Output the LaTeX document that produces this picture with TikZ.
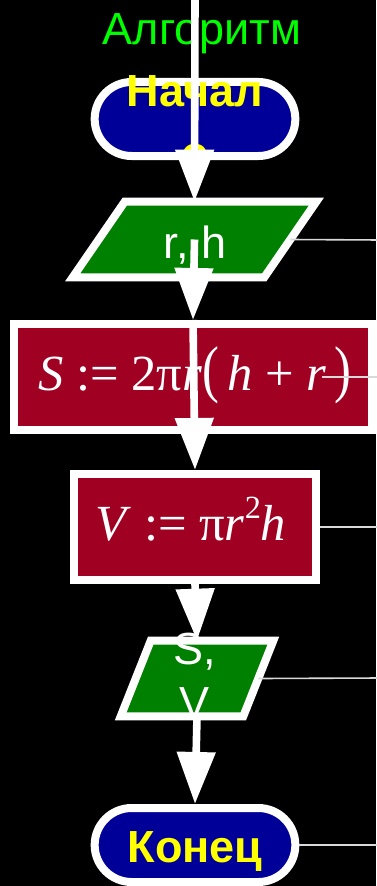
\documentclass[tikz,border=0pt]{standalone}
\usepackage{fontspec}
\setmainfont{Liberation Sans}
\newfontfamily\formulafont{Liberation Serif}
\usepackage{graphicx}
\usetikzlibrary{
  arrows.meta,
  positioning,
  shapes.misc,
  calc
}
\definecolor{termblue}{RGB}{0,0,153}
\definecolor{termyellow}{RGB}{255,255,0}
\definecolor{iogreen}{RGB}{0,128,0}
\definecolor{procred}{RGB}{160,0,34}
\definecolor{titlegreen}{RGB}{0,255,0}
\newcommand{\fv}[1]{\textit{#1}}
\newcommand{\tallpar}[1]{\scalebox{1}[1.25]{#1}}

\begin{document}
\begin{tikzpicture}[
            x=0.025cm, y=-0.025cm,
            term/.style={rounded rectangle, draw=white, line width=0.2cm, fill=termblue, minimum width=5.25cm, minimum height=1.85cm},
            termtxt/.style={text=termyellow, font=\fontsize{32}{44}\selectfont\bfseries, align=center, inner sep=0pt},
            iobox/.style={rectangle, inner sep=0pt, minimum height=1.875cm},
            ioshape/.style={draw=white, line width=0.2cm, fill=iogreen},
            iotxt/.style={text=white, font=\fontsize{32}{38}\selectfont, align=center, inner sep=0pt},
            proc/.style={rectangle, draw=white, line width=0.2cm, fill=procred, minimum height=2.65cm},
            proctxt/.style={text=white, font=\formulafont\fontsize{36}{42}\selectfont, inner sep=0pt},
            wire/.style={draw=white, line width=0.19cm},
            flow/.style={wire, -{Triangle[length=1.3cm,width=0.93cm]}},
            note/.style={draw=white!85!black, line width=0.04cm}
        ]
            \path[use as bounding box, fill=black] (0,0) rectangle (376,886);
            % title
            \node[text=titlegreen, font=\fontsize{32}{38}\selectfont, inner sep=0pt, anchor=base] (title) at (202,45) {Алгоритм};
            % flowchart blocks
            \node[term] (start) at (195,119) {};
            \node[termtxt, anchor=north] (starttxt) at (195,75) {Начал\\о};
            \node[iobox, minimum width=4.775cm] (in) at (194.5,239.5) {};
            \draw[ioshape] ($(in.north west)+(26,0)$) -- ($(in.north east)+(26,0)$) -- ($(in.south east)+(-26,0)$) -- ($(in.south west)+(-26,0)$) -- cycle;
            \node[iotxt, anchor=base] (intxt) at (195,258) {r, h};
            \node[proc, minimum width=8.95cm] (calcS) at (193,377) {};
            \node[proctxt, anchor=base] (calcStxt) at (195,390) {\fv{S} := 2π\fv{r}\tallpar{(}\,\fv{h} + \fv{r}\,\tallpar{)}};
            \node[proc, minimum width=6.05cm] (calcV) at (195,527) {};
            \node[proctxt, anchor=base] (calcVtxt) at (191,540) {\fv{V} := π\fv{r}\raisebox{0.42em}{\fontsize{23}{23}\selectfont 2}\fv{h}};
            \node[iobox, minimum width=3.05cm] (out) at (197,678.5) {};
            \draw[ioshape] ($(out.north west)+(15,0)$) -- ($(out.north east)+(15,0)$) -- ($(out.south east)+(-15,0)$) -- ($(out.south west)+(-15,0)$) -- cycle;
            \node[iotxt, anchor=north] (outtxt) at (195,633) {S,\\V};
            \node[term] (stop) at (195,845) {};
            \node[termtxt, anchor=base] (stoptxt) at (195,862) {Конец};
            % free ends
            \coordinate (top) at (195,-5);
            \coordinate (calcSnote) at (322,377);
            \coordinate (inend) at (380,240);
            \coordinate (calcSend) at (380,377);
            \coordinate (calcVend) at (380,527);
            \coordinate (outend) at (380,678);
            \coordinate (stopend) at (380,845);
            % comment lines
            \draw[note] (in.east) -- (inend);
            \draw[note] (calcSnote) -- (calcSend);
            \draw[note] (calcV.east) -- (calcVend);
            \draw[note] (out.east) -- (outend);
            \draw[note] (stop.east) -- (stopend);
            % flow
            \draw[flow] (top) -- (in.north);
            \draw[flow] (in.center) -- (calcS.north);
            \draw[flow] (calcS.north) -- (calcV.north);
            \draw[flow] (calcV.south) -- (out.north);
            \draw[flow] (out.south) -- (stop.north);
        \end{tikzpicture}
\end{document}
